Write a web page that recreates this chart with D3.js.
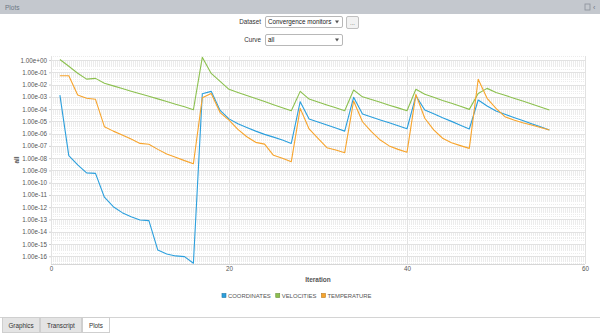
<!DOCTYPE html>
<html>
<head>
<meta charset="utf-8">
<script src="https://cdn.jsdelivr.net/npm/d3@7"></script>
<style>
  body { margin: 0; background: #fff; overflow: hidden; }
  svg text { font-family: "Liberation Sans", Arial, sans-serif; }
</style>
</head>
<body>
<svg id="chart" width="600" height="334"></svg>
<script>
// Residual history per iteration
const iterations = d3.range(1, 57);
const coordinates = [
  1.4e-3, 1.6e-8, 2.8e-9, 6.3e-10, 5.8e-10, 6.5e-12, 1.1e-12, 3.6e-13, 1.7e-13, 9.1e-14,
  8.0e-14, 3.2e-16, 1.55e-16, 1.07e-16, 9.3e-17, 2.7e-17, 1.8e-3, 2.8e-3, 7.9e-5, 1.6e-5,
  6.3e-6, 3.2e-6, 1.6e-6, 8.7e-7, 5.2e-7, 3.0e-7, 1.6e-7, 4.0e-4, 1.55e-5, 8.9e-6,
  5.0e-6, 2.9e-6, 1.6e-6, 9.1e-4, 4.0e-5, 2.3e-5, 1.3e-5, 7.6e-6, 4.4e-6, 2.5e-6,
  1.2e-3, 8.5e-5, 4.2e-5, 2.0e-5, 1.0e-5, 4.9e-6, 2.4e-6, 5.5e-4, 1.8e-4, 6.9e-5,
  3.8e-5, 2.1e-5, 1.2e-5, 6.5e-6, 3.6e-6, 2.0e-6
];
const velocities = [
  1.1, 0.31, 0.083, 0.028, 0.032, 0.0126, 7.8e-3, 4.8e-3, 2.9e-3, 1.8e-3,
  1.1e-3, 6.8e-4, 4.2e-4, 2.5e-4, 1.55e-4, 8.9e-5, 1.66, 0.081, 0.018, 4.1e-3,
  2.3e-3, 1.3e-3, 7.2e-4, 4.2e-4, 2.3e-4, 1.3e-4, 7.4e-5, 2.8e-3, 6.6e-4, 3.8e-4,
  2.2e-4, 1.3e-4, 7.4e-5, 3.6e-3, 1.0e-3, 6.0e-4, 3.6e-4, 2.1e-4, 1.26e-4, 7.4e-5,
  4.1e-3, 1.6e-3, 9.1e-4, 5.1e-4, 3.0e-4, 1.7e-4, 9.5e-5, 1.9e-3, 4.9e-3, 2.3e-3,
  1.35e-3, 7.8e-4, 4.5e-4, 2.6e-4, 1.5e-4, 8.5e-5
];
const temperature = [
  0.052, 0.052, 1.4e-3, 7.6e-4, 6.3e-4, 3.7e-6, 1.6e-6, 7.8e-7, 3.6e-7, 1.6e-7,
  1.35e-7, 5.2e-8, 2.2e-8, 1.2e-8, 6.3e-9, 3.5e-9, 8.5e-4, 1.9e-3, 5.2e-5, 1.26e-5,
  2.2e-6, 5.6e-7, 1.95e-7, 1.4e-7, 1.7e-8, 9.8e-9, 5.2e-9, 1.15e-4, 2.4e-6, 4.1e-7,
  7.1e-8, 4.7e-8, 2.8e-8, 4.6e-4, 9.3e-6, 1.45e-6, 3.0e-7, 1.0e-7, 5.2e-8, 3.0e-8,
  1.6e-3, 1.8e-5, 2.0e-6, 4.2e-7, 1.8e-7, 1.05e-7, 6.3e-8, 0.027, 7.6e-4, 1.15e-4,
  2.4e-5, 1.3e-5, 7.8e-6, 5.0e-6, 3.2e-6, 2.0e-6
];
const seriesNames = ["COORDINATES", "VELOCITIES", "TEMPERATURE"];
const seriesColors = ["#2b9fdd", "#8cc04f", "#f7a42c"];
const xTicks = [0, 20, 40, 60];
const yTickValues = d3.range(0, -17, -1).map(e => Math.pow(10, e));
const tabLabels = ["Graphics", "Transcript", "Plots"];

const svg = d3.select("#chart");
const W = 600, H = 334;
const plot = { left: 51, right: 585, top: 56, bottom: 264 };

// ---- panel header ----
svg.append("rect").attr("x", 0).attr("y", 0).attr("width", W).attr("height", 14).attr("fill", "#c4c8ce");
svg.append("text").attr("x", 5).attr("y", 10).attr("font-size", 6.5).attr("fill", "#6b7785").text("Plots");
svg.append("rect").attr("x", 585).attr("y", 4).attr("width", 5).attr("height", 6).attr("fill", "none").attr("stroke", "#8a9099").attr("stroke-width", 0.8);
svg.append("text").attr("x", 593).attr("y", 10).attr("font-size", 7).attr("fill", "#6b7785").text("‹");

// ---- selectors ----
function dropdown(y, label, value) {
  svg.append("text").attr("x", 261).attr("y", y + 7.5).attr("text-anchor", "end")
    .attr("font-size", 6.3).attr("fill", "#333").text(label);
  svg.append("rect").attr("x", 265.5).attr("y", y + 0.5).attr("width", 77).attr("height", 11).attr("rx", 1.5)
    .attr("fill", "#fff").attr("stroke", "#b8b8b8");
  svg.append("text").attr("x", 268).attr("y", y + 7.5).attr("font-size", 6.3).attr("fill", "#222").text(value);
  svg.append("path").attr("d", `M${335},${y + 4.5} l4,0 l-2,3 z`).attr("fill", "#555");
}
dropdown(16, "Dataset", "Convergence monitors");
dropdown(34, "Curve", "all");
svg.append("rect").attr("x", 346.5).attr("y", 16.5).attr("width", 12).attr("height", 12).attr("rx", 1.5)
  .attr("fill", "#f2f2f2").attr("stroke", "#c0c0c0");
svg.append("text").attr("x", 352.5).attr("y", 25).attr("text-anchor", "middle").attr("font-size", 6).attr("fill", "#555").text("...");

// ---- scales ----
const x = d3.scaleLinear().domain([0, 60]).range([plot.left, plot.right]);
const y = d3.scaleLog().domain([Math.pow(10, -16.63), Math.pow(10, 0.33)]).range([plot.bottom, plot.top]);

const grid = svg.append("g");
// minor log grid (2..9 within each decade)
const minor = [];
for (let e = -17; e <= 0; e++) for (let k = 2; k <= 9; k++) {
  const v = k * Math.pow(10, e);
  if (v >= y.domain()[0] && v <= y.domain()[1]) minor.push(v);
}
grid.selectAll("line.minor").data(minor).join("line")
  .attr("x1", plot.left).attr("x2", plot.right)
  .attr("y1", d => Math.round(y(d)) + 0.5).attr("y2", d => Math.round(y(d)) + 0.5)
  .attr("stroke", "#ececec").attr("stroke-dasharray", "1,1");
grid.selectAll("line.major").data(yTickValues).join("line")
  .attr("x1", plot.left).attr("x2", plot.right)
  .attr("y1", d => Math.round(y(d)) + 0.5).attr("y2", d => Math.round(y(d)) + 0.5)
  .attr("stroke", "#e2e2e2");
grid.selectAll("line.vx").data(xTicks).join("line")
  .attr("x1", d => Math.round(x(d)) + 0.5).attr("x2", d => Math.round(x(d)) + 0.5)
  .attr("y1", plot.top).attr("y2", plot.bottom)
  .attr("stroke", "#e2e2e2");
svg.append("line").attr("x1", plot.left).attr("x2", plot.right).attr("y1", plot.bottom + 0.5).attr("y2", plot.bottom + 0.5)
  .attr("stroke", "#d6d6d6");

// ---- axes ----
const fmtExp = v => d3.format(".2e")(v).replace(/e([+-])(\d)$/, "e$10$2");
const yAxis = svg.append("g").attr("transform", `translate(${plot.left},0)`)
  .call(d3.axisLeft(y).tickValues(yTickValues).tickFormat(fmtExp).tickSize(2).tickPadding(2));
const xAxis = svg.append("g").attr("transform", `translate(0,${plot.bottom})`)
  .call(d3.axisBottom(x).tickValues(xTicks).tickSize(0).tickPadding(3));
[yAxis, xAxis].forEach(a => {
  a.select(".domain").remove();
  a.selectAll(".tick line").attr("stroke", "#cfcfcf");
  a.selectAll(".tick text").attr("font-size", 6.3).attr("fill", "#555").attr("font-family", "Liberation Sans, Arial, sans-serif");
});

svg.append("text").attr("x", 318).attr("y", 282).attr("text-anchor", "middle")
  .attr("font-size", 6.5).attr("font-weight", "bold").attr("fill", "#555").text("Iteration");
svg.append("text").attr("transform", "translate(19,160) rotate(-90)").attr("text-anchor", "middle")
  .attr("font-size", 6.5).attr("font-weight", "bold").attr("fill", "#555").text("all");

// ---- series ----
const series = [coordinates, velocities, temperature];
const line = d3.line().x((d, i) => x(iterations[i])).y(d => y(d));
svg.append("g").selectAll("path").data(series).join("path")
  .attr("d", line).attr("fill", "none")
  .attr("stroke", (d, i) => seriesColors[i]).attr("stroke-width", 1.1).attr("stroke-linejoin", "round");

// ---- legend: swatch + label, laid out left to right and centred ----
const lg = svg.append("g");
let cursor = 0;
const items = seriesNames.map((n, i) => {
  const g = lg.append("g");
  g.append("rect").attr("x", 0.5).attr("y", -4.5).attr("width", 4).attr("height", 4)
    .attr("fill", seriesColors[i]).attr("stroke", d3.color(seriesColors[i]).darker(0.8)).attr("stroke-width", 0.6);
  const t = g.append("text").attr("x", 6.5).attr("y", 0).attr("font-size", 5.9).attr("fill", "#555").text(n);
  const w = 6.5 + t.node().getComputedTextLength();
  g.attr("transform", `translate(${cursor},298)`);
  cursor += w + 4.5;
  return g;
});
const legendWidth = cursor - 4.5;
lg.attr("transform", `translate(${296.5 - legendWidth / 2},0)`);

// ---- tab bar ----
svg.append("line").attr("x1", 0).attr("x2", W).attr("y1", 317.5).attr("y2", 317.5).attr("stroke", "#d4d4d4");
const tabX = [2, 40, 82, 110];
tabLabels.forEach((t, i) => {
  const active = i === 2;
  svg.append("rect").attr("x", tabX[i] + 0.5).attr("y", 317.5).attr("width", tabX[i + 1] - tabX[i] - 1).attr("height", 15)
    .attr("fill", active ? "#fff" : "#e4e4e4").attr("stroke", "#cfcfcf");
  svg.append("text").attr("x", (tabX[i] + tabX[i + 1]) / 2).attr("y", 327.5).attr("text-anchor", "middle")
    .attr("font-size", 6.3).attr("fill", "#333").text(t);
});
</script>
</body>
</html>
